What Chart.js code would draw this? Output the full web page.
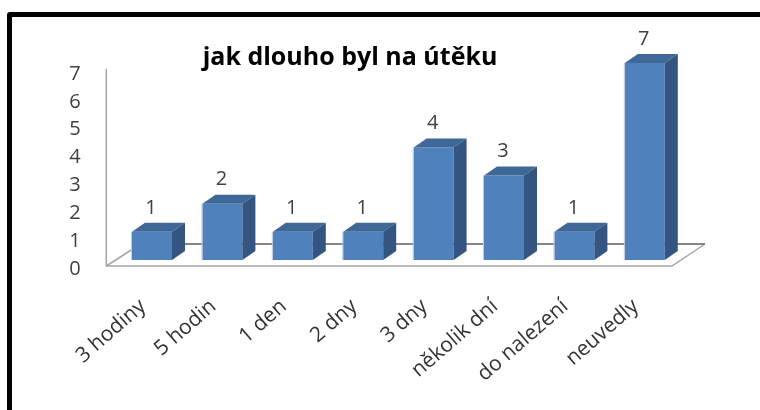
<!DOCTYPE html>
<html>
<head>
<meta charset="utf-8">
<script src="https://cdn.jsdelivr.net/npm/chart.js@4"></script>
<style>
    html, body { margin: 0; background: #fff; overflow: hidden; }
    #wrap { position: relative; width: 760px; height: 410px; overflow: hidden; }
    #frame {
        position: absolute; left: 7px; top: 12px; width: 780px; height: 430px;
        border: 5px solid #000; border-radius: 3px; box-sizing: border-box;
    }
    canvas { position: absolute; left: 0; top: 0; }
</style>
</head>
<body>
<div id="wrap">
    <div id="frame"></div>
    <canvas id="chart" width="760" height="410"></canvas>
</div>
<script>
const categories = ['3 hodiny', '5 hodin', '1 den', '2 dny', '3 dny', 'několik dní', 'do nalezení', 'neuvedly'];
const values = [1, 2, 1, 1, 4, 3, 1, 7];
const yTicks = [0, 1, 2, 3, 4, 5, 6, 7];
const chartTitle = 'jak dlouho byl na útěku';

const FONT = '"Open Sans", Lato, sans-serif';
const DEPTH_X = 13;
const DEPTH_Y = 9;

// fake 3D: floor and axis go under the bars, top/side faces and numbers on top
const bars3d = {
    id: 'bars3d',
    beforeDatasetsDraw(chart) {
        const { ctx, chartArea: a } = chart;
        const axisX = a.left - 10.5;
        const floorY = a.bottom;
        const backY = floorY - 22;
        ctx.save();
        ctx.strokeStyle = '#a6a6a6';
        ctx.lineWidth = 1.5;
        ctx.beginPath();
        ctx.moveTo(axisX, a.top + 15);
        ctx.lineTo(axisX, floorY);
        ctx.lineTo(a.right - 8, floorY);
        ctx.lineTo(a.right + 25, backY);
        ctx.moveTo(axisX, floorY);
        ctx.lineTo(a.left + 16, floorY - 17);
        ctx.stroke();
        ctx.strokeStyle = '#868686';
        ctx.lineWidth = 2;
        ctx.beginPath();
        ctx.moveTo(a.left + 16, backY);
        ctx.lineTo(a.right + 25, backY);
        ctx.stroke();
        ctx.restore();
    },
    afterDatasetsDraw(chart) {
        const { ctx } = chart;
        const meta = chart.getDatasetMeta(0);
        ctx.save();
        meta.data.forEach((bar, i) => {
            const left = bar.x - bar.width / 2;
            const right = bar.x + bar.width / 2;
            // pale rim on the front face
            ctx.fillStyle = '#b9cde5';
            ctx.fillRect(left - 1, bar.y, 1, bar.base - bar.y);
            ctx.fillStyle = '#3f6797';
            ctx.beginPath();
            ctx.moveTo(left, bar.y);
            ctx.lineTo(left + DEPTH_X, bar.y - DEPTH_Y);
            ctx.lineTo(right + DEPTH_X, bar.y - DEPTH_Y);
            ctx.lineTo(right, bar.y);
            ctx.fill();
            ctx.fillStyle = '#345580';
            ctx.beginPath();
            ctx.moveTo(right, bar.y);
            ctx.lineTo(right + DEPTH_X, bar.y - DEPTH_Y);
            ctx.lineTo(right + DEPTH_X, bar.base - DEPTH_Y);
            ctx.lineTo(right, bar.base);
            ctx.fill();
            ctx.fillStyle = '#404040';
            ctx.font = '20px ' + FONT;
            ctx.textAlign = 'center';
            ctx.textBaseline = 'middle';
            ctx.fillText(String(values[i]), bar.x - 1, bar.y - 24);
        });
        ctx.restore();
    }
};

new Chart(document.getElementById('chart'), {
    type: 'bar',
    data: {
        labels: categories,
        datasets: [{
            data: values,
            yAxisID: 'y',
            backgroundColor: '#4f81bd',
            borderWidth: 0,
            barPercentage: 0.568,
            categoryPercentage: 1
        }]
    },
    plugins: [bars3d],
    options: {
        responsive: false,
        animation: false,
        layout: { padding: { top: 43, left: 20, right: 80, bottom: 0 } },
        plugins: {
            legend: { display: false },
            tooltip: { enabled: false },
            title: {
                display: true,
                text: chartTitle,
                color: '#000',
                font: { family: FONT, size: 25, weight: 'bold' },
                padding: { top: 0, bottom: -19 }
            }
        },
        scales: {
            x: {
                grid: { display: false },
                border: { display: false },
                ticks: {
                    color: '#333',
                    font: { family: FONT, size: 21 },
                    minRotation: 41,
                    maxRotation: 41,
                    autoSkip: false,
                    padding: 20,
                    labelOffset: -9
                },
                afterFit: s => { s.height = 144; }
            },
            // drawing scale: zero sits 6px above the floor, like the bars in the picture
            y: {
                display: false,
                min: -0.2132,
                max: 7.32
            },
            // visible numbers sit a little lower than the bars' own scale
            yAxis: {
                position: 'left',
                min: 0.108,
                max: 7.717,
                afterBuildTicks: s => { s.ticks = yTicks.map(value => ({ value })); },
                grid: { display: false },
                border: { display: false },
                ticks: {
                    color: '#404040',
                    font: { family: FONT, size: 20 },
                    padding: 28
                },
                afterFit: s => { s.width = 96.8; }
            }
        }
    }
});
</script>
</body>
</html>
